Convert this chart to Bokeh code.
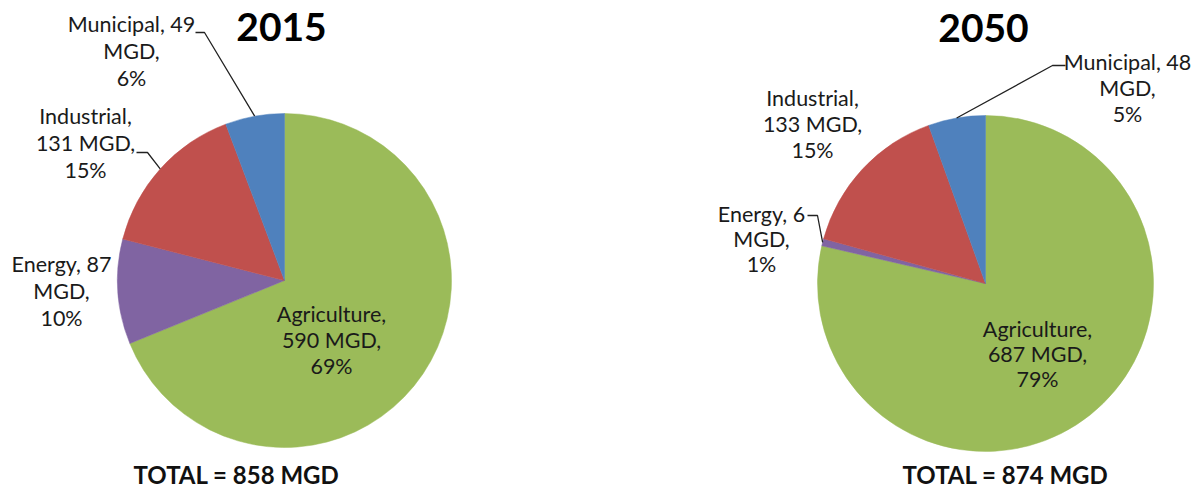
import math
from bokeh.plotting import figure
from bokeh.models import Range1d
from bokeh.core.properties import value
from bokeh.embed import file_html
from bokeh.resources import INLINE

# ---- data ----
categories = ["Agriculture", "Energy", "Industrial", "Municipal"]
values_2015 = [590, 87, 131, 49]
values_2050 = [687, 6, 133, 48]
pct_2015 = [69, 10, 15, 6]
pct_2050 = [79, 1, 15, 5]
titles = ["2015", "2050"]
totals = ["TOTAL = 858 MGD", "TOTAL = 874 MGD"]
colors = ["#9BBB59", "#8064A2", "#C0504D", "#4F81BD"]

FONT = "Lato"
W, H = 1196, 488

p = figure(width=W, height=H, output_backend="svg", toolbar_location=None,
           x_range=Range1d(0, W), y_range=Range1d(0, H),
           min_border=0, x_axis_location=None, y_axis_location=None)
p.grid.visible = False
p.outline_line_color = None
p.background_fill_color = "white"


def Y(y_img):
    return H - y_img


def label_lines(cat, val, pct, split):
    if split == "name_val":
        return [f"{cat}, {val}", "MGD,", f"{pct}%"]
    return [f"{cat},", f"{val} MGD,", f"{pct}%"]


def draw_pie(cx, cy, r, vals, pcts, title, total, title_xy, total_xy, labels):
    tot = float(sum(vals))
    start = math.pi / 2
    mids = []
    for v, c in zip(vals, colors):
        ang = 2 * math.pi * v / tot
        end = start - ang
        p.wedge(x=[cx], y=[Y(cy)], radius=r, start_angle=start, end_angle=end,
                direction="clock", fill_color=c, line_color=c, line_width=0.5)
        mids.append((start + end) / 2)
        start = end
    p.text(x=[title_xy[0]], y=[Y(title_xy[1])], text=[title], text_font=value(FONT),
           text_font_style="bold", text_font_size="39px", text_align="center",
           text_baseline="middle", text_color="#000000")
    p.text(x=[total_xy[0]], y=[Y(total_xy[1])], text=[total], text_font=value(FONT),
           text_font_style="bold", text_font_size="24px", text_align="center",
           text_baseline="middle", text_color="#111111")
    for i, (cat, v, pc) in enumerate(zip(categories, vals, pcts)):
        lab = labels[i]
        lines = label_lines(cat, v, pc, lab["split"])
        x0, y0 = lab["xy"]
        for k, t in enumerate(lines):
            p.text(x=[x0], y=[Y(y0 + k * lab["dy"])], text=[t], text_font=value(FONT),
                   text_font_size="21.5px", text_align="center", text_baseline="middle",
                   text_color="#1a1a1a")
        if lab.get("leader"):
            (ax, ay), (bx, by) = lab["leader"]
            m = mids[i]
            ex = cx + r * math.cos(m)
            ey = cy - r * math.sin(m)
            p.line(x=[ax, bx, ex], y=[Y(ay), Y(by), Y(ey)], line_color="#222222",
                   line_width=1.3)


labels_2015 = [
    {"xy": (331, 313), "dy": 26, "split": "name"},
    {"xy": (61, 263), "dy": 27, "split": "name_val"},
    {"xy": (85, 115), "dy": 27, "split": "name", "leader": ((136, 152), (147, 152))},
    {"xy": (131, 23), "dy": 27, "split": "name_val", "leader": ((195, 32), (204, 32))},
]

labels_2050 = [
    {"xy": (1037, 328), "dy": 25, "split": "name"},
    {"xy": (761, 213), "dy": 25, "split": "name_val", "leader": ((807, 215), (817, 215))},
    {"xy": (812, 97), "dy": 26, "split": "name"},
    {"xy": (1127, 61), "dy": 26, "split": "name_val", "leader": ((1065, 65), (1052, 65))},
]

draw_pie(284, 280, 167, values_2015, pct_2015, titles[0], totals[0], (281, 26), (236, 474), labels_2015)
draw_pie(985, 283, 168, values_2050, pct_2050, titles[1], totals[1], (983, 27), (1005, 474), labels_2050)

open("out.html", "w").write(file_html(p, INLINE))
